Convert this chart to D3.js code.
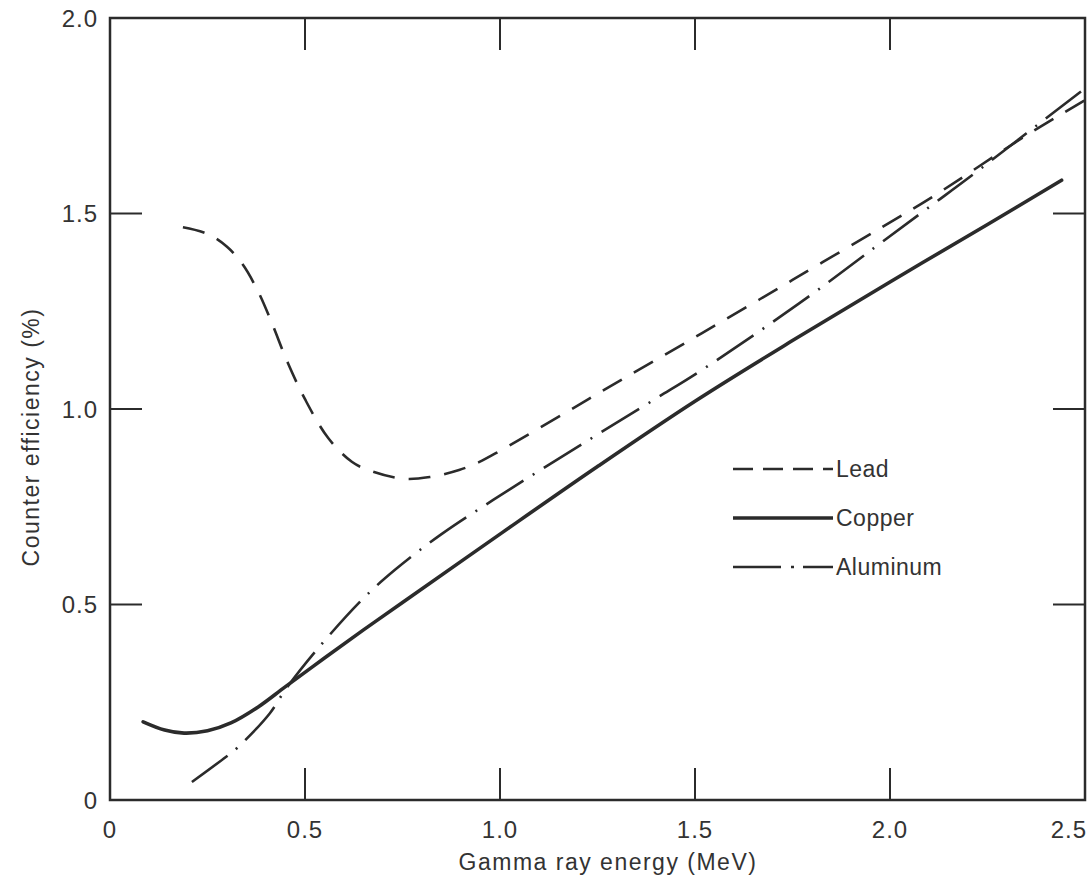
<!DOCTYPE html>
<html>
<head>
<meta charset="utf-8">
<script src="https://cdn.jsdelivr.net/npm/d3@7"></script>
<style>
  body { margin: 0; background: #fff; }
  text { font-family: "Liberation Sans", Arial, sans-serif; fill: #333; }
</style>
</head>
<body>
<script>
// values (energy in MeV, efficiency in %)
var leadX = [0.187, 0.25, 0.30, 0.34, 0.38, 0.415, 0.455, 0.50, 0.56, 0.62, 0.66, 0.75, 0.82, 0.895, 0.946, 1.0, 1.167, 1.31, 1.518, 1.75, 1.979, 2.108, 2.35, 2.5];
var leadY = [1.465, 1.448, 1.415, 1.37, 1.30, 1.22, 1.12, 1.025, 0.925, 0.865, 0.845, 0.822, 0.826, 0.844, 0.864, 0.893, 0.99, 1.074, 1.194, 1.33, 1.465, 1.542, 1.70, 1.79];

var copperX = [0.085, 0.14, 0.19, 0.25, 0.31, 0.38, 0.45, 0.55, 0.65, 0.75, 1.0, 1.25, 1.5, 1.75, 2.0, 2.25, 2.44];
var copperY = [0.200, 0.179, 0.171, 0.177, 0.197, 0.238, 0.290, 0.363, 0.435, 0.505, 0.68, 0.853, 1.02, 1.175, 1.325, 1.472, 1.585];

var aluminumX = [0.21, 0.297, 0.326, 0.41, 0.449, 0.526, 0.646, 0.73, 0.85, 1.026, 1.218, 1.397, 1.518, 1.767, 1.962, 2.108, 2.2, 2.35, 2.5];
var aluminumY = [0.046, 0.11, 0.133, 0.222, 0.281, 0.379, 0.512, 0.588, 0.68, 0.795, 0.915, 1.025, 1.10, 1.27, 1.414, 1.522, 1.59, 1.705, 1.82];

var xTicks = [0, 0.5, 1.0, 1.5, 2.0, 2.5];
var yTicks = [0, 0.5, 1.0, 1.5, 2.0];
var seriesNames = ["Lead", "Copper", "Aluminum"];

var width = 1090, height = 882;

var svg = d3.select("body").append("svg")
    .attr("width", width)
    .attr("height", height);

var x = d3.scaleLinear().domain([0, 2.5]).range([110, 1085]);
var y = d3.scaleLinear().domain([0, 2.0]).range([800, 18]);

var ink = "#2b2b2b";
var tickLen = 32;

// frame
svg.append("rect")
    .attr("x", x(0)).attr("y", y(2))
    .attr("width", x(2.5) - x(0)).attr("height", y(0) - y(2))
    .attr("fill", "none").attr("stroke", ink).attr("stroke-width", 2.5);

// inward ticks on all four sides
var innerX = xTicks.filter(function(d) { return d > 0 && d < 2.5; });
var innerY = yTicks.filter(function(d) { return d > 0 && d < 2.0; });
var ticks = svg.append("g").attr("stroke", ink).attr("stroke-width", 2);
innerX.forEach(function(d) {
  ticks.append("line").attr("x1", x(d)).attr("x2", x(d)).attr("y1", y(0)).attr("y2", y(0) - tickLen);
  ticks.append("line").attr("x1", x(d)).attr("x2", x(d)).attr("y1", y(2)).attr("y2", y(2) + tickLen);
});
innerY.forEach(function(d) {
  ticks.append("line").attr("x1", x(0)).attr("x2", x(0) + tickLen).attr("y1", y(d)).attr("y2", y(d));
  ticks.append("line").attr("x1", x(2.5)).attr("x2", x(2.5) - tickLen).attr("y1", y(d)).attr("y2", y(d));
});

// tick labels
var fmt = function(d) { return d === 0 ? "0" : d3.format(".1f")(d); };
svg.append("g").selectAll("text")
    .data(xTicks)
    .enter().append("text")
    .attr("x", function(d) { return d === 2.5 ? x(d) + 2 : x(d); })
    .attr("y", 838)
    .attr("text-anchor", function(d) { return d === 2.5 ? "end" : "middle"; })
    .attr("font-size", 24)
    .attr("letter-spacing", 1)
    .text(fmt);

svg.append("g").selectAll("text")
    .data(yTicks)
    .enter().append("text")
    .attr("x", 98)
    .attr("y", function(d) { return y(d); })
    .attr("dy", "0.36em")
    .attr("text-anchor", "end")
    .attr("font-size", 24)
    .attr("letter-spacing", 1)
    .text(fmt);

// axis titles
svg.append("text")
    .attr("x", 608).attr("y", 870)
    .attr("text-anchor", "middle")
    .attr("font-size", 23)
    .attr("letter-spacing", 1.5)
    .text("Gamma ray energy (MeV)");

svg.append("text")
    .attr("transform", "translate(39,437) rotate(-90)")
    .attr("text-anchor", "middle")
    .attr("font-size", 23)
    .attr("letter-spacing", 1.5)
    .text("Counter efficiency (%)");

// curves
var styles = {
  Lead: { dash: "22,14", width: 2.6, cap: "butt" },
  Copper: { dash: null, width: 3.6, cap: "round" },
  Aluminum: { dash: "44,11,2,11", width: 2.6, cap: "butt" }
};

function zip(xs, ys) { return xs.map(function(v, i) { return [v, ys[i]]; }); }
var series = [
  { name: "Lead", pts: zip(leadX, leadY) },
  { name: "Copper", pts: zip(copperX, copperY) },
  { name: "Aluminum", pts: zip(aluminumX, aluminumY) }
];

var line = d3.line()
    .x(function(d) { return x(d[0]); })
    .y(function(d) { return y(d[1]); })
    .curve(d3.curveCatmullRom.alpha(0.5));

svg.append("g").selectAll("path")
    .data(series)
    .enter().append("path")
    .attr("d", function(d) { return line(d.pts); })
    .attr("fill", "none")
    .attr("stroke", ink)
    .attr("stroke-width", function(d) { return styles[d.name].width; })
    .attr("stroke-dasharray", function(d) { return styles[d.name].dash; })
    .attr("stroke-linecap", function(d) { return styles[d.name].cap; });

// legend
var legendStyles = {
  Lead: "20,10",
  Copper: null,
  Aluminum: "48,10,3,9"
};
var legend = svg.append("g").selectAll("g")
    .data(seriesNames)
    .enter().append("g")
    .attr("transform", function(d, i) { return "translate(733," + (469 + i * 49) + ")"; });

legend.append("line")
    .attr("x1", 0).attr("x2", 100)
    .attr("stroke", ink)
    .attr("stroke-width", function(d) { return d === "Copper" ? 3.6 : 2.6; })
    .attr("stroke-dasharray", function(d) { return legendStyles[d]; });

legend.append("text")
    .attr("x", 103)
    .attr("dy", "0.36em")
    .attr("font-size", 23)
    .attr("letter-spacing", 0.5)
    .text(function(d) { return d; });
</script>
</body>
</html>
